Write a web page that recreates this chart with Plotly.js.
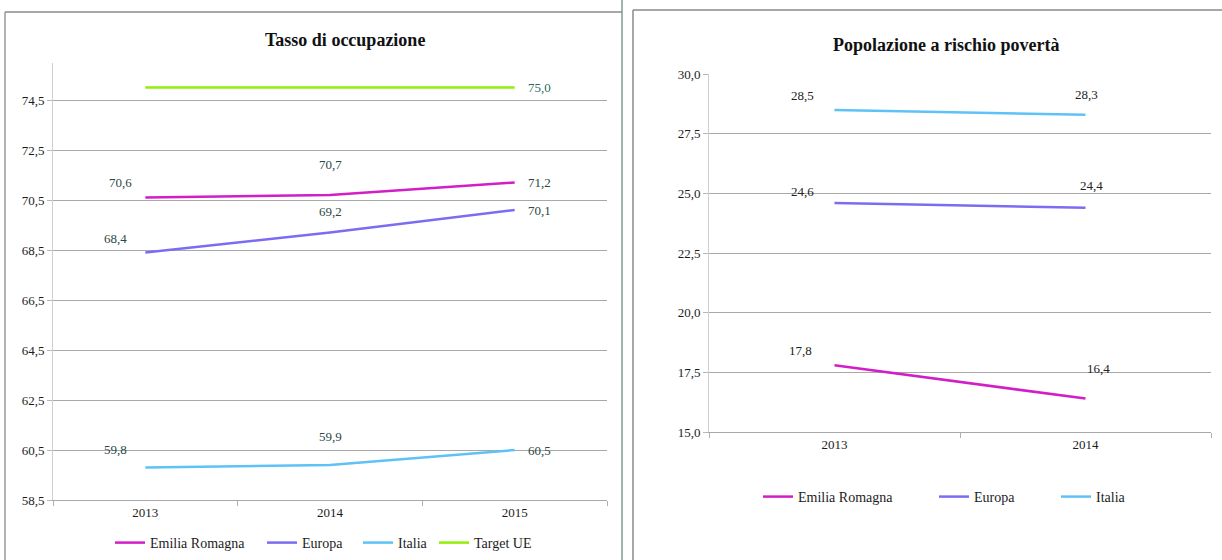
<!DOCTYPE html>
<html>
<head>
<meta charset="utf-8">
<script src="https://cdn.plot.ly/plotly-3.0.1.min.js"></script>
<style>
html,body{margin:0;padding:0;background:#fff;}
#chart{width:1222px;height:560px;}
</style>
</head>
<body>
<div id="chart"></div>
<script>
// ---- Data ----
const yearsOcc = ['2013', '2014', '2015'];
const occEmilia = [70.6, 70.7, 71.2];
const occEuropa = [68.4, 69.2, 70.1];
const occItalia = [59.8, 59.9, 60.5];
const occTarget = [75.0, 75.0, 75.0];

const yearsPov = ['2013', '2014'];
const povEmilia = [17.8, 16.4];
const povEuropa = [24.6, 24.4];
const povItalia = [28.5, 28.3];

const seriesNames = ['Emilia Romagna', 'Europa', 'Italia', 'Target UE'];
const titleOcc = 'Tasso di occupazione';
const titlePov = 'Popolazione a rischio povertà';

// ---- Styles ----
const FONT = 'Liberation Serif, Times New Roman, serif';
const colors = {
  'Emilia Romagna': '#d21ec6',
  'Europa': '#7b6cf2',
  'Italia': '#5fc2f6',
  'Target UE': '#92ee0a'
};
const LW = 2.5;
const PX = v => v / 1222, PY = v => 1 - v / 560;

function lineTrace(x, y, name, xa, ya, legend) {
  return {
    type: 'scatter', mode: 'lines', x: x, y: y, name: name,
    xaxis: xa, yaxis: ya, legend: legend, showlegend: true,
    line: {color: colors[name], width: LW},
    hoverinfo: 'skip'
  };
}

const traces = [
  lineTrace(yearsOcc, occEmilia, seriesNames[0], 'x', 'y', 'legend'),
  lineTrace(yearsOcc, occEuropa, seriesNames[1], 'x', 'y', 'legend2'),
  lineTrace(yearsOcc, occItalia, seriesNames[2], 'x', 'y', 'legend3'),
  lineTrace(yearsOcc, occTarget, seriesNames[3], 'x', 'y', 'legend4'),
  lineTrace(yearsPov, povEmilia, seriesNames[0], 'x2', 'y2', 'legend5'),
  lineTrace(yearsPov, povEuropa, seriesNames[1], 'x2', 'y2', 'legend6'),
  lineTrace(yearsPov, povItalia, seriesNames[2], 'x2', 'y2', 'legend7')
];

// ---- Data labels (positioned through the axes, pixel offsets are style only) ----
function fmt(v) { return v.toFixed(1).replace('.', ','); }
const annotations = [];
function P(xanchor, xshift, yshift) { return {xanchor: xanchor, xshift: xshift, yshift: yshift}; }
function addLabels(ys, xa, ya, posArr, color, onlyIdx) {
  ys.forEach((v, i) => {
    if (onlyIdx && onlyIdx.indexOf(i) < 0) return;
    const p = posArr[i];
    annotations.push({
      x: i, y: v, xref: xa, yref: ya, text: fmt(v),
      showarrow: false, xanchor: p.xanchor, yanchor: 'middle',
      xshift: p.xshift, yshift: p.yshift,
      font: {family: FONT, size: 13, color: color}
    });
  });
}
addLabels(occEmilia, 'x', 'y', [P('right', -11, 15), P('center', 0, 31), P('left', 11, 0)], '#2a4844');
addLabels(occEuropa, 'x', 'y', [P('right', -16, 14), P('center', 0, 21), P('left', 11, 0)], '#2a4844');
addLabels(occItalia, 'x', 'y', [P('right', -16, 18), P('center', 0, 29), P('left', 11, 0)], '#2a4844');
addLabels(occTarget, 'x', 'y', [null, null, P('left', 11, 0)], '#2a6a5c', [2]);
addLabels(povEmilia, 'x2', 'y2', [P('right', -21, 15), P('center', 13, 30)], '#222222');
addLabels(povEuropa, 'x2', 'y2', [P('right', -19, 12), P('center', 6, 22)], '#222222');
addLabels(povItalia, 'x2', 'y2', [P('right', -19, 15), P('center', 1, 20)], '#222222');

// Titles
annotations.push({
  text: '<b>' + titleOcc + '</b>', xref: 'paper', yref: 'paper',
  x: PX(345), y: PY(40), xanchor: 'center', yanchor: 'middle',
  showarrow: false, font: {family: FONT, size: 18, color: '#111'}
});
annotations.push({
  text: '<b>' + titlePov + '</b>', xref: 'paper', yref: 'paper',
  x: PX(946), y: PY(45), xanchor: 'center', yanchor: 'middle',
  showarrow: false, font: {family: FONT, size: 18, color: '#111'}
});

// Panel borders
const shapes = [
  {type: 'line', xref: 'paper', yref: 'paper', x0: PX(5), x1: PX(622), y0: PY(12), y1: PY(12), line: {color: '#8a8a8a', width: 1.5}},
  {type: 'line', xref: 'paper', yref: 'paper', x0: PX(5), x1: PX(5), y0: PY(12), y1: PY(560), line: {color: '#9a9a9a', width: 1.5}},
  {type: 'line', xref: 'paper', yref: 'paper', x0: PX(622), x1: PX(622), y0: PY(0), y1: PY(560), line: {color: '#7f9a95', width: 1.5}},
  {type: 'line', xref: 'paper', yref: 'paper', x0: PX(633), x1: PX(1222), y0: PY(10), y1: PY(10), line: {color: '#8a8a8a', width: 1.5}},
  {type: 'line', xref: 'paper', yref: 'paper', x0: PX(633), x1: PX(633), y0: PY(10), y1: PY(560), line: {color: '#8a8a8a', width: 1.5}}
];

const tickFont = {family: FONT, size: 13, color: '#1c1c1c'};
const xCommon = {
  type: 'category', showgrid: false, zeroline: false,
  showline: true, linecolor: '#a8a8a8', linewidth: 1,
  ticks: 'outside', tickson: 'boundaries', ticklen: 5, tickcolor: '#b0b0b0',
  tickfont: tickFont, fixedrange: true
};
const yCommon = {
  showgrid: true, gridcolor: '#a8a8a8', gridwidth: 1, zeroline: false,
  showline: true, linecolor: '#cfcfcf', linewidth: 1,
  ticks: 'outside', ticklen: 5, tickcolor: '#b8b8b8',
  tickformat: '.1f', tickfont: tickFont, fixedrange: true
};

// individual legend entries, placed to match the original layout
function legendAt(xLeft, yMid) {
  return {
    orientation: 'h', x: PX(xLeft), y: PY(yMid), xanchor: 'left', yanchor: 'middle',
    font: {family: FONT, size: 14, color: '#1c1c1c'}, bgcolor: 'rgba(0,0,0,0)',
    itemwidth: 30
  };
}

const layout = {
  width: 1222, height: 560,
  margin: {l: 0, r: 0, t: 0, b: 0},
  paper_bgcolor: '#ffffff', plot_bgcolor: '#ffffff',
  separators: ',.',
  font: {family: FONT, size: 13, color: '#1c1c1c'},
  xaxis: Object.assign({}, xCommon, {domain: [PX(53), PX(607)], range: [-0.5, 2.5], anchor: 'y'}),
  yaxis: Object.assign({}, yCommon, {domain: [PY(500), PY(62.5)], range: [58.5, 76], tick0: 58.5, dtick: 2, anchor: 'x'}),
  xaxis2: Object.assign({}, xCommon, {domain: [PX(709), PX(1211)], range: [-0.5, 1.5], anchor: 'y2'}),
  yaxis2: Object.assign({}, yCommon, {domain: [PY(432), PY(74.3)], range: [15, 30], tick0: 15, dtick: 2.5, anchor: 'x2'}),
  legend: legendAt(110, 543),
  legend2: legendAt(262, 543),
  legend3: legendAt(358, 543),
  legend4: legendAt(434, 543),
  legend5: legendAt(758, 497),
  legend6: legendAt(934, 497),
  legend7: legendAt(1056, 497),
  showlegend: true,
  annotations: annotations,
  shapes: shapes
};

Plotly.newPlot('chart', traces, layout, {displayModeBar: false, staticPlot: true});
</script>
</body>
</html>
